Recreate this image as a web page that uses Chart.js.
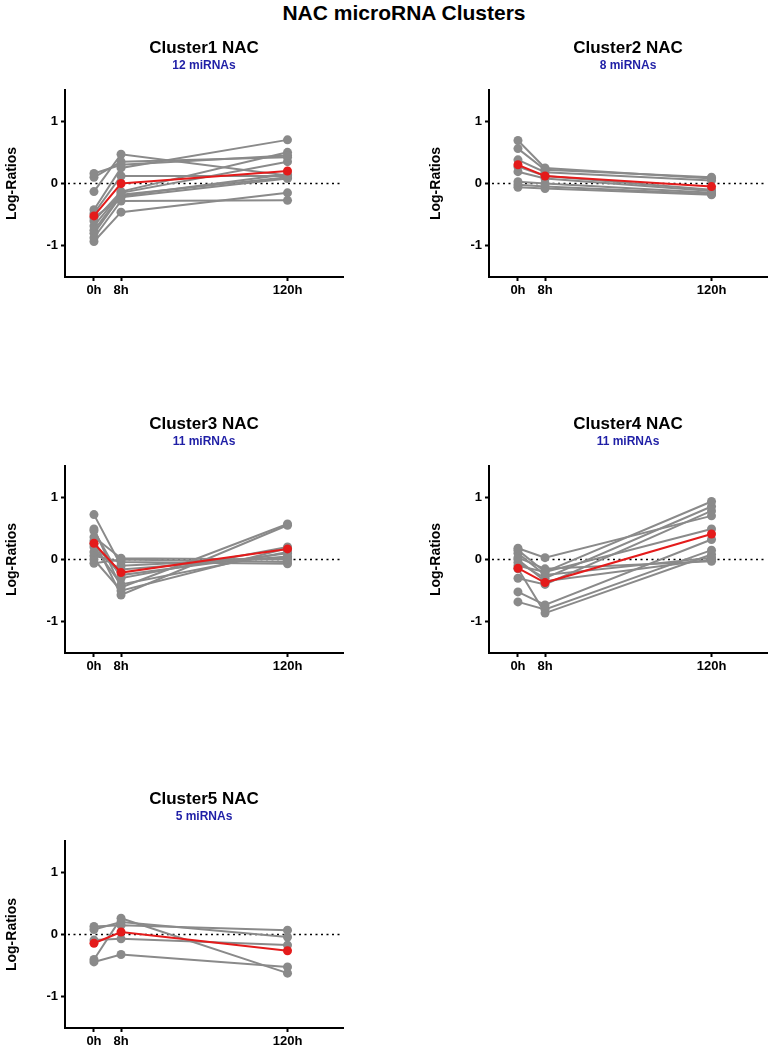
<!DOCTYPE html>
<html lang="en">
<head>
  <meta charset="UTF-8">
  <title>NAC microRNA Clusters</title>
  <style>
    body {
      margin: 0;
      background: #fff;
      font-family: "Liberation Sans", Arial, sans-serif;
      overflow: hidden;
      width: 769px;
      height: 1048px;
      position: relative;
    }
    .main-title {
      position: absolute;
      left: 404px;
      top: 1px;
      transform: translateX(-50%);
      font-size: 21px;
      font-weight: bold;
      white-space: nowrap;
    }
    .panel {
      position: absolute;
    }
  </style>
</head>
<body>
  <div class="main-title">NAC microRNA Clusters</div>

  <canvas class="panel" id="c1" width="408" height="277" style="left:0;top:30px"></canvas>
  <canvas class="panel" id="c2" width="408" height="277" style="left:424px;top:30px"></canvas>
  <canvas class="panel" id="c3" width="408" height="277" style="left:0;top:406px"></canvas>
  <canvas class="panel" id="c4" width="408" height="277" style="left:424px;top:406px"></canvas>
  <canvas class="panel" id="c5" width="408" height="277" style="left:0;top:781px"></canvas>

  <script src="https://cdn.jsdelivr.net/npm/chart.js"></script>
  <script>
    // time points (0h, 8h, 120h) sit on a broken axis, so each one gets an axis position
    const timeLabels = ['0h', '8h', '120h'];
    const timeAxisPos = [0, 1, 7.15];

    const clusterNames = ['Cluster1 NAC', 'Cluster2 NAC', 'Cluster3 NAC', 'Cluster4 NAC', 'Cluster5 NAC'];
    const clusterCounts = ['12 miRNAs', '8 miRNAs', '11 miRNAs', '11 miRNAs', '5 miRNAs'];

    // one row per miRNA: log-ratio at 0h, 8h, 120h
    const cluster1 = [
      [0.16, 0.30, 0.45],
      [0.10, 0.35, 0.42],
      [-0.13, 0.47, 0.13],
      [-0.42, 0.25, 0.70],
      [-0.48, 0.12, 0.12],
      [-0.60, -0.13, 0.50],
      [-0.68, -0.15, 0.35],
      [-0.75, -0.18, 0.10],
      [-0.80, -0.20, 0.15],
      [-0.87, -0.28, -0.27],
      [-0.93, -0.46, -0.15],
      [-0.55, -0.22, 0.08]
    ];
    const cluster2 = [
      [0.69, 0.25, 0.08],
      [0.56, 0.22, 0.10],
      [0.38, 0.18, 0.05],
      [0.27, 0.12, -0.10],
      [0.19, 0.08, -0.12],
      [0.03, 0.00, -0.15],
      [-0.02, -0.05, -0.17],
      [-0.06, -0.08, -0.18]
    ];
    const cluster3 = [
      [0.72, -0.10, 0.03],
      [0.49, -0.45, 0.57],
      [0.46, -0.30, 0.20],
      [0.36, 0.02, 0.00],
      [0.30, -0.57, 0.55],
      [0.20, -0.40, 0.12],
      [0.12, -0.16, 0.05],
      [0.06, -0.04, -0.07],
      [0.00, -0.50, 0.18],
      [-0.06, 0.00, -0.04],
      [0.25, -0.25, 0.10]
    ];
    const cluster4 = [
      [0.18, 0.03, 0.70],
      [0.15, -0.20, 0.93],
      [0.10, -0.25, 0.03],
      [0.03, -0.15, -0.03],
      [-0.05, -0.30, 0.85],
      [-0.10, -0.20, 0.49],
      [-0.30, -0.40, 0.78],
      [-0.52, -0.73, 0.32],
      [-0.68, -0.80, 0.15],
      [-0.15, -0.86, 0.08],
      [0.00, -0.35, 0.00]
    ];
    const cluster5 = [
      [0.13, 0.15, 0.07],
      [0.08, 0.20, -0.04],
      [-0.09, -0.07, -0.17],
      [-0.40, 0.26, -0.62],
      [-0.44, -0.32, -0.52]
    ];
    const clusterMeans = [
      [-0.52, 0.00, 0.20],
      [0.30, 0.12, -0.05],
      [0.26, -0.21, 0.17],
      [-0.14, -0.37, 0.41],
      [-0.14, 0.04, -0.26]
    ];
    const clusterSeries = [cluster1, cluster2, cluster3, cluster4, cluster5];
    const yTicks = [-1, 0, 1];

    const GREY = '#8a8a8a';
    const RED = '#e41b1b';
    const FONT = '"Liberation Sans", Arial, sans-serif';

    // dotted line at y = 0
    const zeroLine = {
      id: 'zeroLine',
      beforeDatasetsDraw(chart) {
        const { ctx, chartArea } = chart;
        const y = chart.scales.y.getPixelForValue(0);
        ctx.save();
        ctx.strokeStyle = '#000';
        ctx.lineWidth = 1.5;
        ctx.setLineDash([2, 3.5]);
        ctx.beginPath();
        ctx.moveTo(chartArea.left + 3, y);
        ctx.lineTo(chartArea.right, y);
        ctx.stroke();
        ctx.restore();
      }
    };

    function toPoints(vals) {
      return vals.map((v, i) => ({ x: timeAxisPos[i], y: v }));
    }

    function makeChart(idx) {
      const datasets = clusterSeries[idx].map(row => ({
        data: toPoints(row),
        borderColor: GREY,
        backgroundColor: GREY,
        borderWidth: 2,
        pointRadius: 4.5,
        pointBorderWidth: 0,
        order: 1
      }));
      datasets.push({
        data: toPoints(clusterMeans[idx]),
        borderColor: RED,
        backgroundColor: RED,
        borderWidth: 2,
        pointRadius: 4.5,
        pointBorderWidth: 0,
        order: 0
      });

      new Chart(document.getElementById('c' + (idx + 1)), {
        type: 'line',
        data: { datasets },
        plugins: [zeroLine],
        options: {
          responsive: false,
          animation: false,
          layout: { padding: { left: 0, right: 65, top: 0, bottom: 0 } },
          plugins: {
            legend: { display: false },
            tooltip: { enabled: false },
            title: {
              display: true,
              fullSize: false,
              text: clusterNames[idx],
              color: '#000',
              font: { family: FONT, size: 17, weight: 'bold' },
              padding: { top: 8, bottom: 0 }
            },
            subtitle: {
              display: true,
              fullSize: false,
              text: clusterCounts[idx],
              color: '#1f1fa6',
              font: { family: FONT, size: 12, weight: 'bold' },
              padding: { top: 0, bottom: 17.2 }
            }
          },
          scales: {
            x: {
              type: 'linear',
              min: -1.07,
              max: 9.2,
              afterBuildTicks: s => { s.ticks = timeAxisPos.map(v => ({ value: v })); },
              afterFit: s => { s.height = 30; },
              ticks: {
                color: '#000',
                padding: 2,
                font: { family: FONT, size: 13, weight: 'bold' },
                callback: (v) => timeLabels[timeAxisPos.indexOf(v)]
              },
              grid: { display: true, drawOnChartArea: false, drawTicks: true, tickLength: 4, tickColor: '#000', tickWidth: 2 },
              border: { display: true, color: '#000', width: 2 }
            },
            y: {
              min: -1.5,
              max: 1.5,
              afterBuildTicks: s => { s.ticks = yTicks.map(v => ({ value: v })); },
              afterFit: s => { s.width = 65; },
              ticks: {
                color: '#000',
                padding: 3,
                font: { family: FONT, size: 13, weight: 'bold' }
              },
              grid: { display: true, drawOnChartArea: false, drawTicks: true, tickLength: 4, tickColor: '#000', tickWidth: 2 },
              border: { display: true, color: '#000', width: 2 },
              title: {
                display: true,
                text: 'Log-Ratios',
                color: '#000',
                font: { family: FONT, size: 14, weight: 'bold' },
                padding: { top: 4, bottom: 0 }
              }
            }
          }
        }
      });
    }

    for (let i = 0; i < clusterSeries.length; i++) {
      makeChart(i);
    }
  </script>
</body>
</html>
